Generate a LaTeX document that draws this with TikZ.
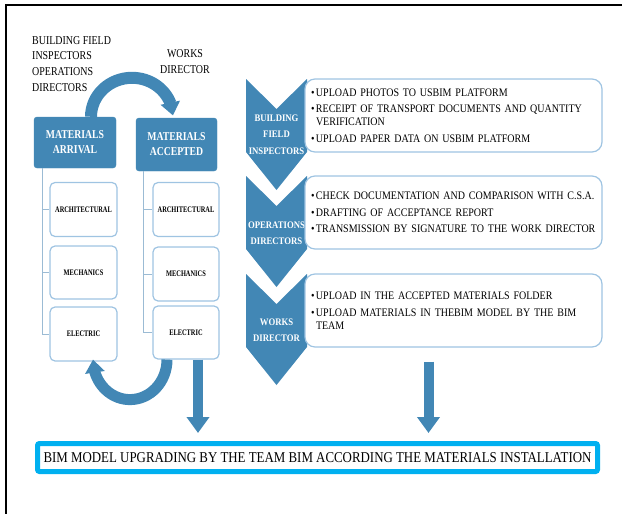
\documentclass[tikz,border=0pt]{standalone}
\usepackage{fontspec}
\setmainfont{Liberation Serif}
\newfontfamily\ftop[FakeStretch=0.83]{Liberation Serif}
\newfontfamily\fmat[FakeStretch=0.81]{Liberation Serif}
\newfontfamily\fsub[FakeStretch=0.75]{Liberation Serif}
\newfontfamily\fchev[FakeStretch=0.87]{Liberation Serif}
\newfontfamily\fitem[FakeStretch=0.87]{Liberation Serif}
\newfontfamily\fbim[FakeStretch=0.86]{Liberation Serif}
\usetikzlibrary{arrows.meta,bending,calc}
\definecolor{sblue}{HTML}{4287B5}
\definecolor{lblue}{HTML}{9FC4E2}
\definecolor{cblue}{HTML}{9BBBD4}
\definecolor{cyanb}{HTML}{00B0F0}
\begin{document}
\begin{tikzpicture}[x=1pt,y=-1pt,
  matbox/.style={draw=sblue, fill=sblue, rounded corners=3pt, minimum width=82pt, minimum height=51pt, inner sep=0pt, text=white, align=center, font=\fmat\fontsize{12}{15}\selectfont\bfseries},
  subbox/.style={draw=lblue, line width=1.2pt, fill=white, rounded corners=5pt, minimum width=67pt, minimum height=54pt, inner sep=0pt, font=\fsub\fontsize{8.5}{10}\selectfont\bfseries},
  conn/.style={draw=cblue, line width=1pt},
  bigarrow/.style={draw=sblue, line width=12pt, -{Triangle[width=19pt,length=13pt]}},
  downarrow/.style={draw=sblue, line width=10pt, -{Triangle[width=22pt,length=16pt]}},
  chevtext/.style={text=white, align=center, inner sep=0pt, font=\fchev\fontsize{10}{16.5}\selectfont\bfseries},
  tbox/.style={draw=lblue, line width=1.2pt, fill=white, rounded corners=10pt, minimum width=293pt, minimum height=73pt, inner xsep=6pt, inner ysep=0pt, text width=285pt, align=left, font=\fitem\fontsize{11.5}{13}\selectfont},
  lbl/.style={inner sep=0pt, font=\ftop\fontsize{12}{15.7}\selectfont}
]
\useasboundingbox (0,0) rectangle (622,514);
\draw[line width=2pt] (6,514) -- (6,5) -- (622,5);

% top labels
\node[lbl, anchor=north west, align=left] (toplbl) at (32,36) {BUILDING FIELD\\INSPECTORS\\OPERATIONS\\DIRECTORS};
\node[lbl, align=center, font=\ftop\fontsize{12}{16.5}\selectfont] (wdlbl) at (185,61.5) {WORKS\\DIRECTOR};

% material boxes
\node[matbox] (arr) at (75,142.5) {MATERIALS\\ARRIVAL};
\node[matbox, minimum width=81pt, minimum height=53pt] (acc) at (176.5,144.5) {MATERIALS\\ACCEPTED};

% curved arrows
\draw[bigarrow] ([xshift=16pt]arr.north) arc[start angle=180, end angle=358, x radius=41, y radius=39];

% sub boxes
\node[subbox] (la) at (83.5,209.5) {ARCHITECTURAL};
\node[subbox, minimum height=53pt] (lm) at (83.5,272.5) {MECHANICS};
\node[subbox] (le) at (83.5,334) {ELECTRIC};
\node[subbox, minimum width=66pt] (ra) at (186,209.5) {ARCHITECTURAL};
\node[subbox, minimum width=66pt] (rm) at (186,274) {MECHANICS};
\node[subbox, minimum width=66pt, minimum height=53pt] (re) at (186,332.5) {ELECTRIC};

\coordinate (lx) at (42,0);
\coordinate (rx) at (143,0);
\draw[conn] (arr.south -| lx) |- (la.west);
\draw[conn] (arr.south -| lx) |- (lm.west);
\draw[conn] (arr.south -| lx) |- (le.west);
\draw[conn] (acc.south -| rx) |- (ra.west);
\draw[conn] (acc.south -| rx) |- (rm.west);
\draw[conn] (acc.south -| rx) |- (re.west);

\draw[bigarrow, line width=11pt] ([xshift=-19pt]re.south) arc[start angle=0, end angle=180, x radius=37, y radius=40];

% chevrons
\foreach \T in {79,176,274}{
  \fill[sblue] (246,\T) -- (276.5,{\T+30}) -- (307,\T) -- (307,{\T+73}) -- (276.5,{\T+111}) -- (246,{\T+73}) -- cycle;
}
\node[chevtext] (c1) at (276.5,134.5) {BUILDING\\FIELD\\INSPECTORS};
\node[chevtext] (c2) at (276.5,233) {OPERATIONS\\DIRECTORS};
\node[chevtext] (c3) at (276.5,330) {WORKS\\DIRECTOR};

% text boxes
\node[tbox] (t1) at (453.5,115.5) {\makebox[5pt][l]{\textbullet}UPLOAD PHOTOS TO USBIM PLATFORM\\[3.5pt]
\makebox[5pt][l]{\textbullet}RECEIPT OF TRANSPORT DOCUMENTS AND QUANTITY\\
\hspace*{5pt}VERIFICATION\\[3.5pt]
\makebox[5pt][l]{\textbullet}UPLOAD PAPER DATA ON USBIM PLATFORM};
\node[tbox] (t2) at (453.5,212.5) {\makebox[5pt][l]{\textbullet}CHECK DOCUMENTATION AND COMPARISON WITH C.S.A.\\[3.5pt]
\makebox[5pt][l]{\textbullet}DRAFTING OF ACCEPTANCE REPORT\\[3.5pt]
\makebox[5pt][l]{\textbullet}TRANSMISSION BY SIGNATURE TO THE WORK DIRECTOR};
\node[tbox] (t3) at (453.5,310.5) {\makebox[5pt][l]{\textbullet}UPLOAD IN THE ACCEPTED MATERIALS FOLDER\\[3.5pt]
\makebox[5pt][l]{\textbullet}UPLOAD MATERIALS IN THEBIM MODEL BY THE BIM\\
\hspace*{5pt}TEAM};

% bottom box
\node[draw=cyanb, line width=5pt, rounded corners=2pt, minimum width=560pt, minimum height=28pt, inner sep=0pt, font=\fbim\fontsize{15}{18}\selectfont] (bim) at (317.5,457.5) {BIM MODEL UPGRADING BY THE TEAM BIM ACCORDING THE MATERIALS INSTALLATION};

\coordinate (dl) at (198,0);
\coordinate (dr) at (428.5,0);
\draw[downarrow, shorten >=8pt] (re.south -| dl) -- (bim.north -| dl);
\draw[downarrow, shorten >=8pt] ($(t3.south -| dr)+(0,14)$) -- (bim.north -| dr);
\end{tikzpicture}
\end{document}
